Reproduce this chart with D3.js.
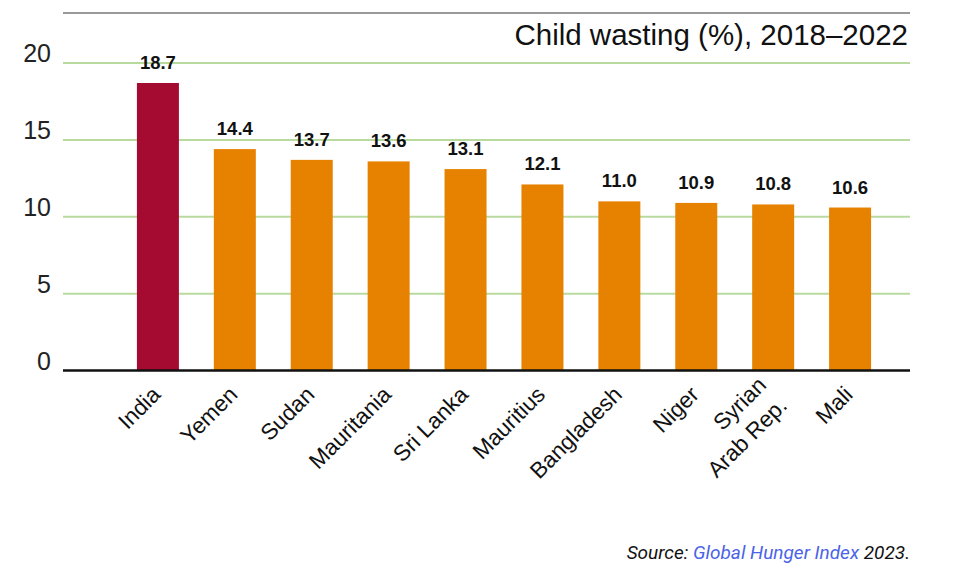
<!DOCTYPE html>
<html><head><meta charset="utf-8">
<script src="https://cdn.jsdelivr.net/npm/d3@7"></script>
<style>body{margin:0;background:#fff}svg{display:block}</style>
</head><body>
<svg id="c" width="974" height="575"></svg>
<script>
const countries = ["India","Yemen","Sudan","Mauritania","Sri Lanka","Mauritius","Bangladesh","Niger","Syrian\nArab Rep.","Mali"];
const wasting = [18.7,14.4,13.7,13.6,13.1,12.1,11.0,10.9,10.8,10.6];
const yTicks = [0,5,10,15,20];
const titleText = "Child wasting (%), 2018–2022";

const svg = d3.select("#c");
const x = d3.scaleBand().domain(countries).range([102,906]).paddingInner(0.454).paddingOuter(0.454);
const y = d3.scaleLinear().domain([0,20]).range([370.5,63]);
const left = 63, right = 910;

// top rule
svg.append("line").attr("x1",left).attr("x2",right).attr("y1",13).attr("y2",13)
  .attr("stroke","#999").attr("stroke-width",2);

// gridlines
svg.append("g").selectAll("line").data(yTicks.filter(d=>d>0)).join("line")
  .attr("x1",left).attr("x2",right).attr("y1",d=>y(d)).attr("y2",d=>y(d))
  .attr("stroke","#b9da9f").attr("stroke-width",2);

// y labels
svg.append("g").selectAll("text").data(yTicks).join("text")
  .attr("x",51).attr("y",d=>y(d)-1).attr("text-anchor","end")
  .attr("font-family","Liberation Sans, Arial, sans-serif").attr("font-size",25).attr("fill","#222")
  .text(d=>d);

// bars
svg.append("g").selectAll("rect").data(wasting).join("rect")
  .attr("x",(d,i)=>x(countries[i])).attr("width",x.bandwidth())
  .attr("y",d=>y(d)).attr("height",d=>y(0)-y(d))
  .attr("fill",(d,i)=>i===0?"#a50a30":"#e68200");

// value labels
svg.append("g").selectAll("text").data(wasting).join("text")
  .attr("x",(d,i)=>x(countries[i])+x.bandwidth()/2).attr("y",d=>y(d)-14)
  .attr("text-anchor","middle").attr("font-family","Liberation Sans, Arial, sans-serif")
  .attr("font-weight","bold").attr("font-size",18.5).attr("fill","#111")
  .text(d=>d.toFixed(1));

// baseline
svg.append("line").attr("x1",left).attr("x2",right).attr("y1",y(0)).attr("y2",y(0))
  .attr("stroke","#111").attr("stroke-width",2.5);

// category labels
const cat = svg.append("g").selectAll("text").data(countries).join("text")
  .attr("transform",d=>`translate(${x(d)+x.bandwidth()/2+4},396) rotate(-45)`)
  .attr("text-anchor","end").attr("font-family","Liberation Sans, Arial, sans-serif")
  .attr("font-size",22.5).attr("fill","#111");
cat.each(function(d){
  const lines = d.split("\n");
  const t = d3.select(this);
  lines.forEach((ln,k)=>{
    t.append("tspan").attr("x",0).attr("dy", k===0 ? (-(lines.length-1)*0.6)+"em" : "1.3em").text(ln);
  });
});

// title
svg.append("text").attr("x",908).attr("y",45).attr("text-anchor","end")
  .attr("font-family","Liberation Sans, Arial, sans-serif").attr("font-size",29.5).attr("fill","#111")
  .text(titleText);

// source
const src = svg.append("text").attr("x",910).attr("y",559).attr("text-anchor","end")
  .attr("font-family","Roboto, sans-serif").attr("font-style","italic").attr("font-size",19).attr("fill","#111");
src.append("tspan").text("Source: ");
src.append("tspan").attr("fill","#4a63e7").text("Global Hunger Index");
src.append("tspan").text(" 2023.");
</script>
</body></html>
